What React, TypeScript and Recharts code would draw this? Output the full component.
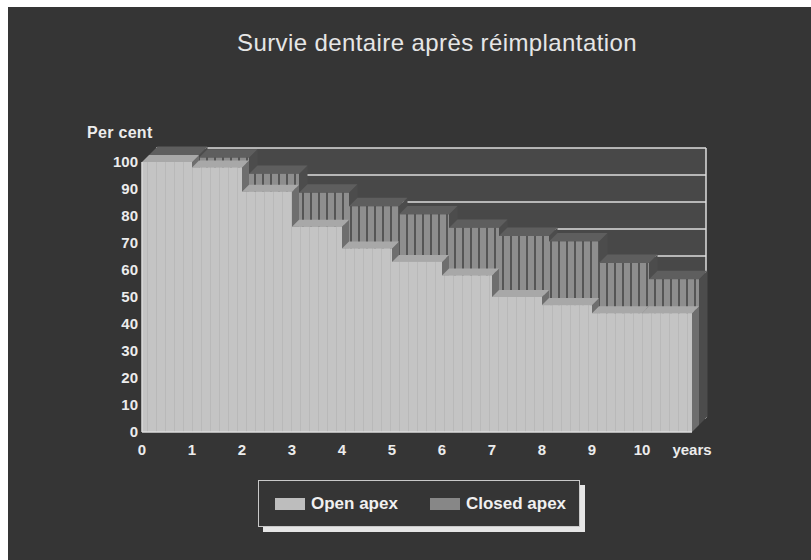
import React from "react";
import { ComposedChart, Bar, XAxis, YAxis, CartesianGrid } from "recharts";

// values (per cent surviving, by year interval)
const years = ["0", "1", "2", "3", "4", "5", "6", "7", "8", "9", "10"];
const openApex = [100, 98, 89, 76, 68, 63, 58, 50, 47, 44, 44];
const closedApex = [100, 99, 93, 86, 81, 78, 73, 70, 68, 60, 54];
const percentTicks = [0, 10, 20, 30, 40, 50, 60, 70, 80, 90, 100];
const endLabel = "years";

const series = [
  { key: "open", name: "Open apex", swatch: "#bdbdbd" },
  { key: "closed", name: "Closed apex", swatch: "#878787" },
];

const data = years.map((year, i) => ({
  year,
  open: openApex[i],
  closed: closedApex[i],
}));

const W = 803;
const H = 553;
const MARGIN = { top: 155, right: 119, bottom: 98, left: 94 };
const Y_W = 40;
const X_H = 30;
const PLOT_W = W - MARGIN.left - MARGIN.right - Y_W;
const BAND = PLOT_W / years.length;
const D = 7; // depth step of the 3D look
const FONT = "'Liberation Sans', Arial, Helvetica, sans-serif";

const XTick = (props: any) => {
  const { x, y, payload, index } = props;
  return (
    <g>
      <text x={x - BAND / 2} y={y} dy="0.71em" textAnchor="middle" fill="#ececec" fontSize={15} fontWeight="bold" fontFamily={FONT}>
        {payload.value}
      </text>
      {index === years.length - 1 && (
        <text x={x + BAND / 2} y={y} dy="0.71em" textAnchor="middle" fill="#ececec" fontSize={15} fontWeight="bold" fontFamily={FONT}>
          {endLabel}
        </text>
      )}
    </g>
  );
};

const OpenBox = (props: any) => {
  const { x, y, width: w, height: h } = props;
  if (h == null || isNaN(h)) return null;
  return (
    <g>
      <polygon points={`${x + w},${y} ${x + w + D},${y - D} ${x + w + D},${y + h - D} ${x + w},${y + h}`} fill="#6e6e6e" />
      <polygon points={`${x},${y} ${x + D},${y - D} ${x + w + D},${y - D} ${x + w},${y}`} fill="#a8a8a8" />
      <rect x={x} y={y} width={w} height={h} fill="url(#openTex)" />
    </g>
  );
};

const ClosedBox = (props: any) => {
  const { x, y, width: w, height: h } = props;
  if (h == null || isNaN(h)) return null;
  const fx = x + D;
  const fy = y - D;
  const d2 = D + 1.5;
  return (
    <g>
      <polygon points={`${fx + w},${fy} ${fx + w + d2},${fy - d2} ${fx + w + d2},${fy + h - d2} ${fx + w},${fy + h}`} fill="#4c4c4c" />
      <polygon points={`${fx},${fy} ${fx + d2},${fy - d2} ${fx + w + d2},${fy - d2} ${fx + w},${fy}`} fill="#5e5e5e" />
      <rect x={fx} y={fy} width={w} height={h} fill="url(#closedTex)" />
    </g>
  );
};

export default function App() {
  return (
    <div
      style={{
        position: "fixed",
        left: 8,
        top: 7,
        width: W,
        height: H,
        background: "#353535",
        fontFamily: FONT,
        overflow: "hidden",
      }}
    >
      <style>{`.wall .recharts-cartesian-grid { transform: translate(${2 * D}px, ${-2 * D}px); }`}</style>
      <div
        style={{
          position: "absolute",
          left: 229,
          top: 24,
          fontSize: 24,
          lineHeight: 1,
          letterSpacing: 0.4,
          color: "#e6e6e6",
          whiteSpace: "nowrap",
        }}
      >
        Survie dentaire après réimplantation
      </div>
      <div
        style={{
          position: "absolute",
          left: 79,
          top: 118,
          fontSize: 16,
          lineHeight: 1,
          fontWeight: "bold",
          letterSpacing: 0.3,
          color: "#ececec",
          whiteSpace: "nowrap",
        }}
      >
        Per cent
      </div>

      <div className="wall" style={{ position: "absolute", left: 0, top: 0 }}>
        <ComposedChart width={W} height={H} data={data} margin={MARGIN} barCategoryGap={0} barGap={0}>
          <defs>
            <pattern id="openTex" patternUnits="userSpaceOnUse" width={9} height={10}>
              <rect width={9} height={10} fill="#c4c4c4" />
              <rect x={4} width={1} height={10} fill="#b9b9b9" />
            </pattern>
            <pattern id="closedTex" patternUnits="userSpaceOnUse" width={8} height={10}>
              <rect width={8} height={10} fill="#8e8e8e" />
              <rect x={6} width={2} height={10} fill="#555555" />
            </pattern>
          </defs>
          <CartesianGrid
            xAxisId="front"
            fill="#484848"
            fillOpacity={1}
            stroke="#dcdcdc"
            strokeWidth={1.5}
            verticalPoints={[MARGIN.left + Y_W + PLOT_W]}
          />
          <XAxis
            xAxisId="front"
            dataKey="year"
            type="category"
            height={X_H}
            interval={0}
            tickSize={0}
            tickMargin={12}
            axisLine={{ stroke: "#dddddd", strokeWidth: 1.5 }}
            tick={<XTick />}
          />
          <XAxis xAxisId="back" dataKey="year" type="category" orientation="top" height={0} hide />
          <YAxis
            width={Y_W}
            domain={[0, 100]}
            ticks={percentTicks}
            interval={0}
            tickSize={0}
            tickMargin={4}
            axisLine={{ stroke: "#dddddd", strokeWidth: 1.5 }}
            tick={{ fill: "#ececec", fontSize: 15, fontWeight: "bold", fontFamily: FONT }}
          />
          <Bar xAxisId="back" dataKey="closed" name={series[1].name} fill={series[1].swatch} shape={(p: any) => <ClosedBox {...p} />} isAnimationActive={false} />
          <Bar xAxisId="front" dataKey="open" name={series[0].name} fill={series[0].swatch} shape={(p: any) => <OpenBox {...p} />} isAnimationActive={false} />
        </ComposedChart>
      </div>

      <div
        style={{
          position: "absolute",
          left: 250,
          top: 473,
          width: 322,
          height: 47,
          boxSizing: "border-box",
          border: "1.5px solid #c8c8c8",
          boxShadow: "5px 5px 0 #e6e6e6",
          background: "#353535",
          display: "flex",
          alignItems: "center",
          paddingLeft: 16,
          color: "#f0f0f0",
          fontWeight: "bold",
          fontSize: 17,
          whiteSpace: "nowrap",
        }}
      >
        {series.map((s, i) => (
          <div key={s.key} style={{ display: "flex", alignItems: "center", marginLeft: i === 0 ? 0 : 32 }}>
            <span style={{ display: "inline-block", width: 30, height: 12, background: s.swatch, marginRight: 6 }} />
            <span>{s.name}</span>
          </div>
        ))}
      </div>
    </div>
  );
}
